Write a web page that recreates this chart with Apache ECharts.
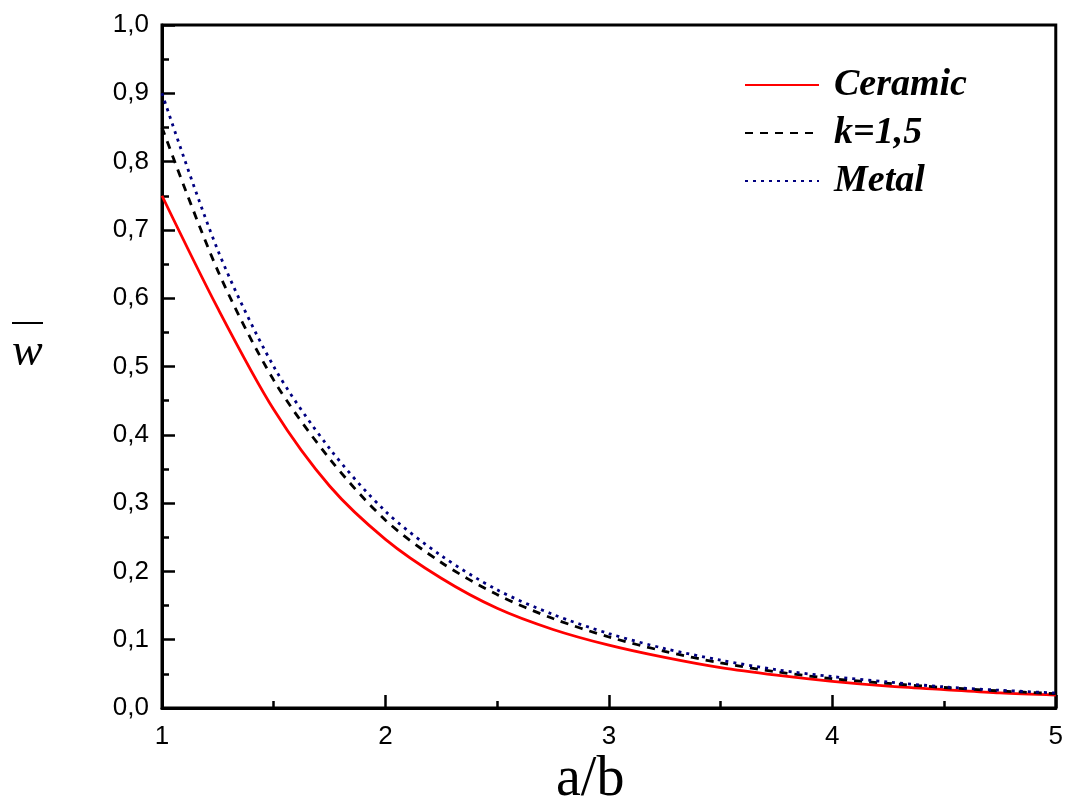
<!DOCTYPE html>
<html>
<head>
<meta charset="utf-8">
<script src="https://cdn.jsdelivr.net/npm/echarts@6/dist/echarts.min.js"></script>
<style>
  html, body { margin: 0; padding: 0; background: #fff; }
  #chart { width: 1066px; height: 809px; }
</style>
</head>
<body>
<div id="chart"></div>
<script>
// a/b values
const ratio = [1, 1.25, 1.5, 1.75, 2, 2.25, 2.5, 2.75, 3, 3.25, 3.5, 3.75, 4, 4.25, 4.5, 4.75, 5]
// deflection w
const ceramic = [0.75, 0.585, 0.437, 0.325, 0.247, 0.19, 0.146, 0.115, 0.092, 0.074, 0.059, 0.048, 0.039, 0.032, 0.027, 0.022, 0.019]
const kMid = [0.85, 0.64, 0.48, 0.365, 0.275, 0.213, 0.166, 0.131, 0.104, 0.083, 0.066, 0.053, 0.043, 0.036, 0.030, 0.025, 0.021]
const metal = [0.90, 0.67, 0.50, 0.38, 0.288, 0.223, 0.173, 0.137, 0.109, 0.087, 0.070, 0.056, 0.046, 0.038, 0.031, 0.026, 0.022]
const seriesNames = ['Ceramic', 'k=1,5', 'Metal']

const pairs = (ys) => ratio.map((x, i) => [x, ys[i]])

const chart = echarts.init(document.getElementById('chart'))

const axisCommon = {
  axisLine: { show: true, onZero: false, lineStyle: { color: '#000', width: 3 } },
  axisTick: { show: true, inside: true, length: 13, lineStyle: { color: '#000', width: 2.5 } },
  minorTick: { show: true, splitNumber: 2, length: 7, lineStyle: { color: '#000', width: 2.5 } },
  splitLine: { show: false },
  axisLabel: { color: '#000', fontFamily: 'Liberation Sans', fontSize: 26 }
}

chart.setOption({
  animation: false,
  grid: {
    left: 162, right: 9, top: 25, bottom: 101,
    show: true, borderColor: '#000', borderWidth: 3
  },
  xAxis: Object.assign({}, axisCommon, {
    type: 'value', min: 1, max: 5, interval: 1,
    axisLabel: Object.assign({}, axisCommon.axisLabel, { margin: 16 })
  }),
  yAxis: Object.assign({}, axisCommon, {
    type: 'value', min: 0, max: 1, interval: 0.1,
    axisLabel: Object.assign({}, axisCommon.axisLabel, {
      margin: 13,
      formatter: (v) => v.toFixed(1).replace('.', ',')
    })
  }),
  legend: {
    orient: 'vertical',
    left: 739, top: 60,
    itemWidth: 74, itemHeight: 14, itemGap: 8,
    itemStyle: { opacity: 0 },
    textStyle: {
      color: '#000', fontFamily: 'Liberation Serif', fontSize: 38,
      fontStyle: 'italic', fontWeight: 'bold', padding: [0, 0, 0, 10], lineHeight: 40
    },
    data: seriesNames
  },
  graphic: [
    {
      type: 'text', left: 12, top: 330,
      style: { text: 'w', fontFamily: 'Liberation Serif', fontStyle: 'italic', fontSize: 46, fill: '#000' }
    },
    {
      type: 'rect', shape: { x: 12, y: 322, width: 31, height: 2 },
      style: { fill: '#000' }
    },
    {
      type: 'text', left: 556, top: 752,
      style: { text: 'a/b', fontFamily: 'Liberation Serif', fontSize: 56, fill: '#000' }
    }
  ],
  series: [
    {
      name: seriesNames[0], type: 'line', data: pairs(ceramic), smooth: 0.3, symbol: 'none',
      lineStyle: { color: '#ff0000', width: 2.8 }, itemStyle: { color: '#ff0000' }
    },
    {
      name: seriesNames[1], type: 'line', data: pairs(kMid), smooth: 0.3, symbol: 'none',
      lineStyle: { color: '#000', width: 2.8, type: [8, 7] }, itemStyle: { color: '#000' }
    },
    {
      name: seriesNames[2], type: 'line', data: pairs(metal), smooth: 0.3, symbol: 'none',
      lineStyle: { color: '#000080', width: 2.8, type: [3, 5] }, itemStyle: { color: '#000080' }
    }
  ]
})
</script>
</body>
</html>
